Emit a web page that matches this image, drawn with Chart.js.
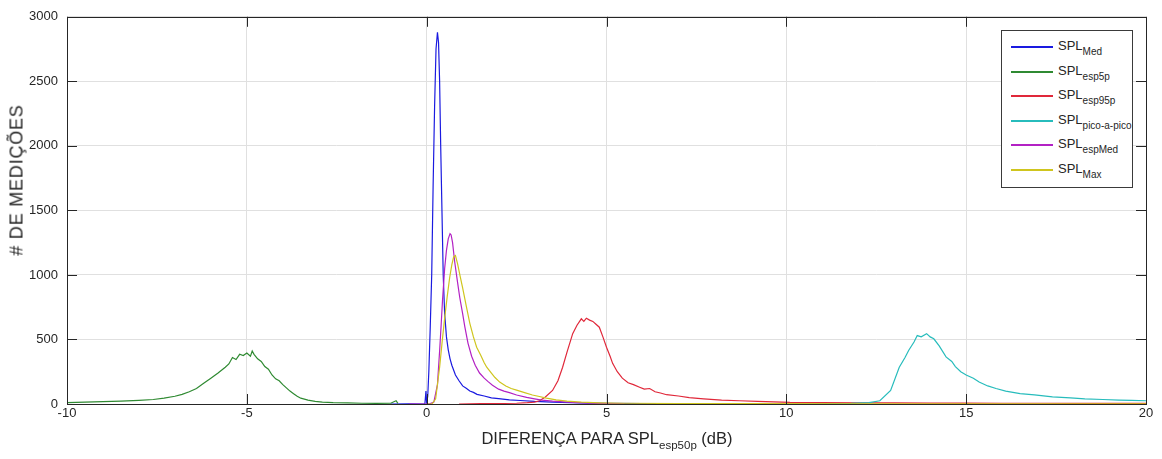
<!DOCTYPE html>
<html>
<head>
<meta charset="utf-8">
<script src="https://cdn.jsdelivr.net/npm/chart.js@4"></script>
<style>
  body { margin: 0; background: #fff; }
  #wrap { position: relative; width: 1162px; height: 459px; font-family: "Liberation Sans", Arial, sans-serif; color: #262626; }
  #xtitle { position: absolute; left: 0; width: 1214px; top: 429px; text-align: center; font-size: 16.5px; white-space: nowrap; }
  #xtitle sub { font-size: 11.5px; vertical-align: -5px; }
  #ytitle { position: absolute; left: 17px; top: 180px; transform: translate(-50%, -50%) rotate(-90deg); font-size: 18px; letter-spacing: 0.8px; white-space: nowrap; }
  #legend { position: absolute; left: 1001px; top: 30px; width: 132px; height: 158px; border: 1px solid #3a3a3a; background: #fff; box-sizing: border-box; padding-top: 7px; }
  .row { height: 24.5px; display: flex; align-items: flex-start; }
  .swatch { width: 42px; height: 2px; margin: 8px 5px 0 9px; }
  .lbl { font-size: 13px; line-height: 16px; white-space: nowrap; }
  .lbl sub { font-size: 10px; vertical-align: -5px; }
</style>
</head>
<body>
<div id="wrap">
  <canvas id="grafico" width="1162" height="459"></canvas>
  <div id="ytitle"># DE MEDIÇÕES</div>
  <div id="xtitle">DIFERENÇA PARA SPL<sub>esp50p</sub> (dB)</div>
  <div id="legend"></div>
</div>
<script>
// nomes das series (SPL + subscrito)
const seriesSubs = ["Med", "esp5p", "esp95p", "pico-a-pico", "espMed", "Max"]
const seriesColors = ["#1a1ae0", "#2f8a32", "#e0283a", "#27bcbc", "#b321c4", "#cfc51e"]

const xTicks = [-10, -5, 0, 5, 10, 15, 20]
const yTicks = [0, 500, 1000, 1500, 2000, 2500, 3000]

// SPL_Med
const medX = [-1, -0.5, -0.05, -0.02, 0, 0.03, 0.06, 0.1, 0.14, 0.18, 0.22, 0.26, 0.3, 0.33, 0.36, 0.39, 0.42, 0.46, 0.5, 0.55, 0.6, 0.65, 0.7, 0.8, 0.9, 1.0, 1.1, 1.2, 1.3, 1.4, 1.6, 1.8, 2.0, 2.3, 2.6, 3.0, 3.5, 4.0, 4.5, 5, 6, 7, 8]
const medY = [0, 2, 0, 100, 10, 60, 250, 600, 1000, 1700, 2300, 2750, 2880, 2800, 2500, 2000, 1570, 1000, 700, 520, 420, 350, 300, 225, 180, 140, 122, 100, 90, 75, 62, 48, 42, 32, 27, 20, 15, 10, 7, 5, 3, 2, 1]

// SPL_esp5p
const esp5X = [-10, -9.5, -9, -8.5, -8, -7.6, -7.3, -7.0, -6.8, -6.6, -6.4, -6.2, -6.0, -5.8, -5.6, -5.5, -5.4, -5.3, -5.2, -5.1, -5.0, -4.9, -4.85, -4.8, -4.7, -4.6, -4.5, -4.4, -4.3, -4.2, -4.1, -4.0, -3.9, -3.8, -3.7, -3.6, -3.5, -3.3, -3.1, -2.9, -2.6, -2.2, -1.8, -1.4, -1.0, -0.85, -0.8]
const esp5Y = [10, 15, 18, 22, 28, 35, 45, 60, 75, 95, 120, 160, 200, 240, 285, 310, 360, 345, 385, 375, 395, 370, 410, 385, 350, 330, 290, 270, 225, 195, 180, 150, 125, 100, 80, 60, 45, 30, 20, 14, 10, 8, 6, 5, 6, 25, 5]

// SPL_esp95p
const esp95X = [0.9, 1.5, 2.0, 2.5, 2.8, 3.0, 3.14, 3.3, 3.5, 3.65, 3.78, 3.9, 4.06, 4.18, 4.3, 4.37, 4.44, 4.53, 4.62, 4.7, 4.8, 4.9, 5.0, 5.1, 5.17, 5.3, 5.44, 5.6, 5.75, 5.92, 6.05, 6.2, 6.35, 6.5, 6.67, 7.0, 7.3, 7.7, 8.2, 8.7, 9.2, 10.1, 11, 12, 13, 14, 15, 16, 17, 18, 19, 20]
const esp95Y = [0, 3, 4, 6, 10, 15, 25, 55, 105, 180, 285, 400, 545, 610, 660, 640, 665, 650, 640, 620, 595, 520, 440, 370, 315, 250, 200, 165, 150, 130, 115, 120, 95, 85, 72, 62, 50, 40, 30, 25, 20, 12, 10, 8, 8, 7, 7, 6, 6, 5, 5, 5]

// SPL_pico-a-pico
const picoX = [10, 11, 11.8, 12.3, 12.6, 12.9, 13.14, 13.3, 13.4, 13.55, 13.64, 13.75, 13.9, 14.0, 14.1, 14.25, 14.44, 14.6, 14.7, 14.85, 15.0, 15.2, 15.36, 15.6, 15.83, 16.1, 16.5, 16.9, 17.4, 17.9, 18.3, 18.8, 19.25, 19.6, 20]
const picoY = [0, 2, 5, 10, 25, 105, 285, 360, 415, 480, 530, 520, 545, 520, 505, 450, 365, 330, 290, 250, 225, 200, 170, 140, 120, 100, 80, 70, 55, 48, 40, 35, 30, 28, 25]

// SPL_espMed
const espMedX = [-0.5, 0, 0.1, 0.2, 0.3, 0.36, 0.4, 0.44, 0.5, 0.55, 0.6, 0.65, 0.68, 0.72, 0.78, 0.85, 0.92, 1.0, 1.06, 1.15, 1.25, 1.35, 1.47, 1.6, 1.7, 1.83, 2.0, 2.15, 2.3, 2.5, 2.78, 3.0, 3.2, 3.5, 3.8, 4.2, 4.6, 5.0, 5.5]
const espMedY = [0, 0, 3, 15, 150, 410, 600, 800, 1050, 1190, 1280, 1320, 1310, 1250, 1100, 960, 825, 700, 600, 470, 370, 300, 240, 200, 175, 145, 115, 100, 88, 70, 52, 40, 30, 22, 16, 10, 6, 4, 2]

// SPL_Max
const maxX = [0, 0.15, 0.25, 0.36, 0.43, 0.5, 0.57, 0.64, 0.7, 0.75, 0.8, 0.86, 0.93, 1.0, 1.1, 1.2, 1.3, 1.39, 1.5, 1.6, 1.67, 1.8, 1.9, 2.03, 2.2, 2.35, 2.5, 2.7, 2.94, 3.1, 3.33, 3.6, 3.9, 4.3, 4.8, 5.5, 7, 9, 12, 15, 18, 20]
const maxY = [0, 0, 40, 285, 480, 665, 830, 980, 1080, 1140, 1150, 1085, 990, 900, 760, 625, 520, 440, 380, 320, 285, 240, 205, 170, 140, 120, 108, 90, 70, 60, 45, 32, 22, 14, 9, 6, 4, 3, 2, 2, 2, 2]

const allX = [medX, esp5X, esp95X, picoX, espMedX, maxX]
const allY = [medY, esp5Y, esp95Y, picoY, espMedY, maxY]

const toPoints = (xs, ys) => xs.map((x, i) => ({ x: x, y: ys[i] }))

const datasets = seriesSubs.map((sub, i) => ({
  label: "SPL" + sub,
  data: toPoints(allX[i], allY[i]),
  borderColor: seriesColors[i],
  borderWidth: 1.2,
  pointRadius: 0,
  tension: 0,
  order: 6 - i
}))

// legenda com subscrito (html)
const legendEl = document.getElementById("legend")
seriesSubs.forEach((sub, i) => {
  const row = document.createElement("div")
  row.className = "row"
  row.innerHTML = '<div class="swatch" style="background-color:' + seriesColors[i] + '"></div>' +
    '<div class="lbl">SPL<sub>' + sub + '</sub></div>'
  legendEl.appendChild(row)
})

// caixa e ticks para dentro, estilo matlab
const axesBox = {
  id: "axesBox",
  afterDatasetsDraw(chart) {
    const { ctx, chartArea: a, scales } = chart
    ctx.save()
    ctx.strokeStyle = "#262626"
    ctx.lineWidth = 1
    ctx.strokeRect(Math.round(a.left) + 0.5, Math.round(a.top) + 0.5, Math.round(a.right - a.left), Math.round(a.bottom - a.top))
    ctx.beginPath()
    xTicks.forEach(t => {
      const px = Math.round(scales.x.getPixelForValue(t)) + 0.5
      ctx.moveTo(px, a.bottom); ctx.lineTo(px, a.bottom - 10)
      ctx.moveTo(px, a.top); ctx.lineTo(px, a.top + 10)
    })
    yTicks.forEach(t => {
      const py = Math.round(scales.y.getPixelForValue(t)) + 0.5
      ctx.moveTo(a.left, py); ctx.lineTo(a.left + 10, py)
      ctx.moveTo(a.right, py); ctx.lineTo(a.right - 10, py)
    })
    ctx.stroke()
    ctx.restore()
  }
}

const tickFont = { family: "'Liberation Sans', Arial, sans-serif", size: 13 }

new Chart(document.getElementById("grafico"), {
  type: "line",
  data: { datasets: datasets },
  options: {
    responsive: false,
    animation: false,
    layout: { padding: { left: 0, right: 16, top: 15, bottom: 0 } },
    plugins: { legend: { display: false }, tooltip: { enabled: false } },
    scales: {
      x: {
        type: "linear",
        min: -10,
        max: 20,
        afterBuildTicks: s => { s.ticks = xTicks.map(v => ({ value: v })) },
        afterFit: s => { s.height = 55 },
        ticks: { color: "#262626", font: tickFont, padding: 2, maxRotation: 0, callback: v => String(v) },
        grid: { color: "#e0e0e0", drawTicks: false },
        border: { display: false }
      },
      y: {
        min: 0,
        max: 3000,
        afterBuildTicks: s => { s.ticks = yTicks.map(v => ({ value: v })) },
        afterFit: s => { s.width = 67 },
        ticks: { color: "#262626", font: tickFont, padding: 9, callback: v => String(v) },
        grid: { color: "#e0e0e0", drawTicks: false },
        border: { display: false }
      }
    }
  },
  plugins: [axesBox]
})
</script>
</body>
</html>
